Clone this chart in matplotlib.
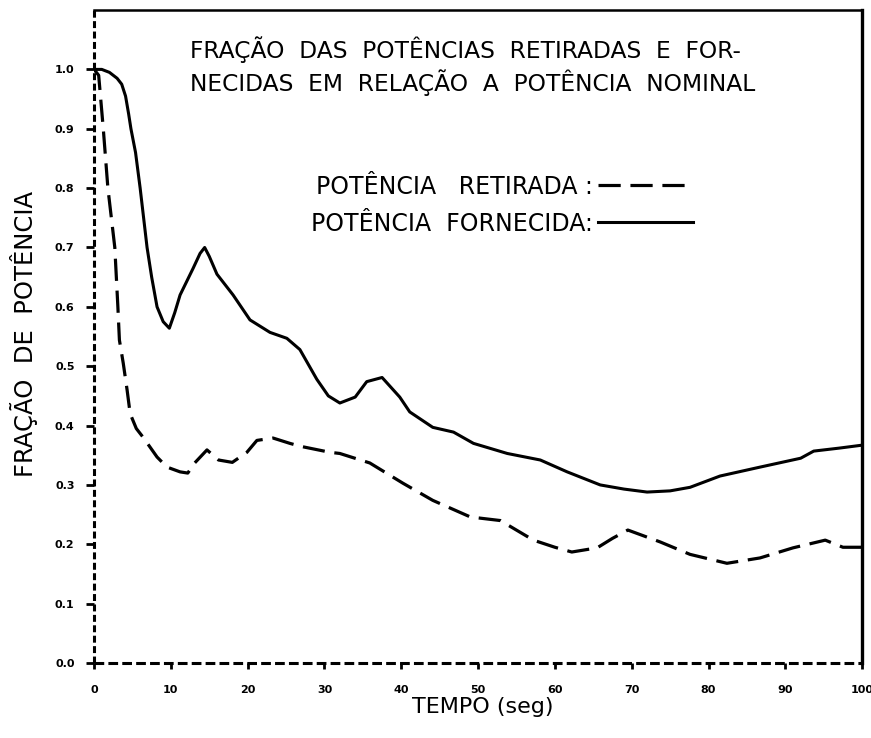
import matplotlib
matplotlib.use('Agg')
import matplotlib.pyplot as plt

# dados
t_fornecida = [0, 1, 2, 3, 3.6, 4.1, 4.5, 4.8, 5.4, 6, 6.9, 7.5, 8.2, 9, 9.8, 10.5,
               11.2, 12.9, 13.8, 14.4, 15, 16, 18.1, 20.3, 22.9, 25.1, 26.8, 29, 30.5,
               32, 34, 35.5, 37.5, 39.8, 41.1, 44.1, 46.8, 49.4, 53.8, 58.1, 61.6,
               65.9, 69, 72, 75, 77.6, 81.5, 86.7, 92, 93.7, 97, 100]
p_fornecida = [1.0, 1.0, 0.995, 0.985, 0.975, 0.955, 0.925, 0.9, 0.86, 0.8, 0.7, 0.65,
               0.6, 0.575, 0.564, 0.59, 0.62, 0.665, 0.69, 0.70, 0.685, 0.655, 0.62,
               0.578, 0.557, 0.547, 0.528, 0.478, 0.45, 0.438, 0.448, 0.474, 0.481,
               0.448, 0.423, 0.397, 0.389, 0.37, 0.353, 0.342, 0.322, 0.30, 0.293,
               0.288, 0.29, 0.296, 0.315, 0.33, 0.345, 0.357, 0.362, 0.367]

t_retirada = [0, 0.6, 1.2, 1.8, 2.7, 3.1, 3.3, 3.8, 4.3, 4.7, 5.5, 6.4, 8.2, 9.5, 11.2,
              12.2, 13.1, 14.7, 16.2, 18, 19.9, 21.2, 23.3, 25.5, 26.9, 30.7, 32, 35.9,
              40.2, 44.1, 49, 52.9, 57.2, 60, 62.2, 65.5, 67.5, 69.5, 73.7, 77.6, 82.4,
              86.7, 91, 95.2, 97.5, 100]
p_retirada = [1.0, 0.99, 0.9, 0.8, 0.7, 0.6, 0.544, 0.505, 0.46, 0.42, 0.395, 0.38,
              0.347, 0.33, 0.322, 0.32, 0.337, 0.359, 0.342, 0.338, 0.355, 0.375, 0.379,
              0.37, 0.365, 0.355, 0.353, 0.337, 0.303, 0.274, 0.246, 0.24, 0.207,
              0.195, 0.187, 0.194, 0.21, 0.224, 0.204, 0.183, 0.168, 0.177, 0.194,
              0.207, 0.195, 0.195]

x_ticks = [0, 10, 20, 30, 40, 50, 60, 70, 80, 90, 100]
y_ticks = [0.0, 0.1, 0.2, 0.3, 0.4, 0.5, 0.6, 0.7, 0.8, 0.9, 1.0]

plt.rcParams['font.family'] = ['DejaVu Sans']
plt.rcParams['lines.scale_dashes'] = False

fig = plt.figure(figsize=(8.71, 7.38), dpi=100)
ax = fig.add_axes([0.108, 0.1016, 0.8818, 0.8848])

# curvas
ax.plot(t_retirada, p_retirada, color='black', lw=2.3, dashes=(16, 7),
        label='POTÊNCIA   RETIRADA :')
ax.plot(t_fornecida, p_fornecida, color='black', lw=2.2, label='POTÊNCIA  FORNECIDA:')

ax.set_xlim(0, 100)
ax.set_ylim(0, 1.1)
ax.set_xticks(x_ticks)
ax.set_xticklabels([str(v) for v in x_ticks])
ax.set_yticks(y_ticks)
ax.set_yticklabels(['%.1f' % v for v in y_ticks])
for lbl in ax.get_xticklabels() + ax.get_yticklabels():
    lbl.set_fontweight('bold')
    lbl.set_fontsize(8)
ax.tick_params(axis='y', direction='out', length=6, width=2, pad=8)
ax.tick_params(axis='x', direction='out', length=4, width=2, pad=12)

# eixos tracejados à esquerda e embaixo
ax.spines['left'].set_linestyle((0, (5, 2.5)))
ax.spines['bottom'].set_linestyle((0, (7, 3)))
for s in ['left', 'bottom']:
    ax.spines[s].set_linewidth(2.2)
    ax.spines[s].set_capstyle('butt')
ax.spines['top'].set_linewidth(1.8)
ax.spines['right'].set_linewidth(2.4)

ax.text(0.125, 0.914, 'FRAÇÃO  DAS  POTÊNCIAS  RETIRADAS  E  FOR-\n'
        'NECIDAS  EM  RELAÇÃO  A  POTÊNCIA  NOMINAL',
        transform=ax.transAxes, fontsize=16.8, ha='left', va='center', linespacing=1.3)

ax.legend(loc='upper left', bbox_to_anchor=(0.282, 0.748), frameon=False,
          markerfirst=False, fontsize=17, handlelength=4.0, handletextpad=0.25,
          labelspacing=0.55, borderpad=0, borderaxespad=0)

ax.set_xlabel('TEMPO (seg)', fontsize=16)
ax.xaxis.set_label_coords(0.506, -0.052)
ax.set_ylabel('FRAÇÃO  DE  POTÊNCIA', fontsize=17.5)
ax.yaxis.set_label_coords(-0.073, 0.504)

plt.savefig('out.png', dpi=100)
